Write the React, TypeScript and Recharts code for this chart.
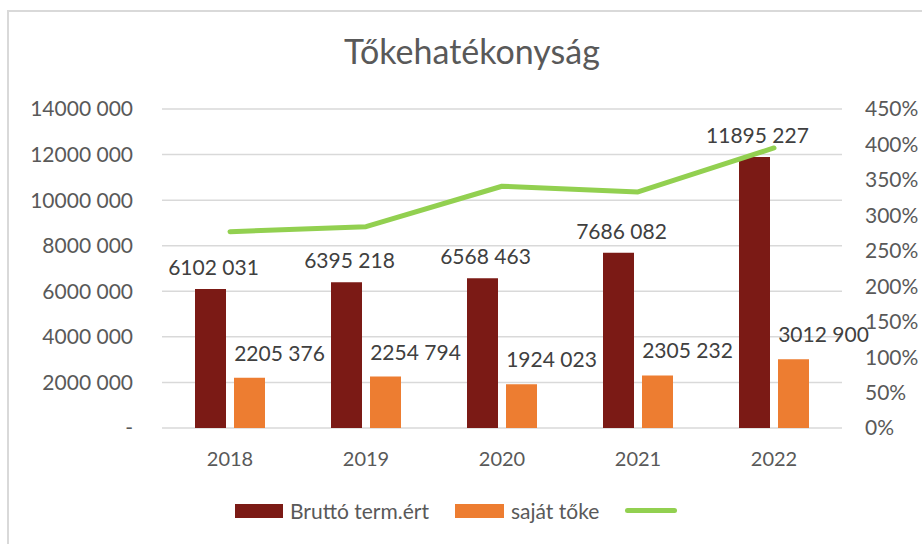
import { Bar, CartesianGrid, ComposedChart, LabelList, Line, XAxis, YAxis } from 'recharts';

const years = ['2018', '2019', '2020', '2021', '2022'];
const bruttoTermErt = [6102031, 6395218, 6568463, 7686082, 11895227];
const sajatToke = [2205376, 2254794, 1924023, 2305232, 3012900];
const hatekonysag = [2.77, 2.84, 3.41, 3.33, 3.95];

const leftTicks = [0, 2000000, 4000000, 6000000, 8000000, 10000000, 12000000, 14000000];
const rightTicks = [0, 0.5, 1, 1.5, 2, 2.5, 3, 3.5, 4, 4.5];

const FONT = 'Lato, "Open Sans", sans-serif';
const DARK = '#7B1A15';
const ORANGE = '#ED7D31';
const GREEN = '#92D050';

// Excel number format "# ###" -> "14000 000", zero shown as "-"
function fmtNum(v: number): string {
  if (v === 0) return '-';
  const head = Math.floor(v / 1000);
  const tail = String(v % 1000).padStart(3, '0');
  return `${head} ${tail}`;
}

function fmtPct(v: number): string {
  return `${Math.round(v * 100)}%`;
}

function makeLabel(dx: number, dy: number) {
  return (props: any) => {
    const { x, y, width, value } = props;
    return (
      <text
        x={Number(x) + Number(width) / 2 + dx}
        y={Number(y) + dy}
        textAnchor="middle"
        fontFamily={FONT}
        fontSize={21}
        fill="#404040"
      >
        {fmtNum(Number(value))}
      </text>
    );
  };
}

function ChartLegend() {
  const item = { display: 'flex', alignItems: 'center', marginRight: 26 } as const;
  const text = { fontFamily: FONT, fontSize: 21, color: '#595959', marginLeft: 7 } as const;
  return (
    <div style={{ position: 'absolute', left: 235, top: 498, display: 'flex', alignItems: 'center' }}>
      <div style={item}>
        <div style={{ width: 48, height: 14, background: DARK }} />
        <span style={text}>Bruttó term.ért</span>
      </div>
      <div style={item}>
        <div style={{ width: 49, height: 14, background: ORANGE }} />
        <span style={text}>saját tőke</span>
      </div>
      <div style={item}>
        <div style={{ width: 52, height: 5, borderRadius: 3, background: GREEN }} />
      </div>
    </div>
  );
}

export default function App(): JSX.Element {
  const chartData = years.map((year, i) => ({
    year,
    brutto: bruttoTermErt[i],
    sajat: sajatToke[i],
    arany: hatekonysag[i],
  }));

  return (
    <div style={{ position: 'absolute', left: 0, top: 0, width: 922, height: 544, overflow: 'hidden', background: '#fff' }}>
      <div
        style={{
          position: 'absolute',
          left: 7,
          top: 10,
          width: 940,
          height: 560,
          border: '2px solid #D9D9D9',
        }}
      />
      <div
        style={{
          position: 'absolute',
          left: 8,
          width: 928,
          top: 30,
          textAlign: 'center',
          fontFamily: FONT,
          fontSize: 34,
          color: '#595959',
        }}
      >
        Tőkehatékonyság
      </div>
      <div style={{ position: 'absolute', left: 0, top: 0 }}>
        <ComposedChart
          width={922}
          height={544}
          data={chartData}
          margin={{ top: 109, right: 0, left: 0, bottom: 56 }}
          barSize={31}
          barGap={8}
        >
          <CartesianGrid vertical={false} stroke="#D9D9D9" strokeWidth={1.5} yAxisId="left" />
          <XAxis
            dataKey="year"
            axisLine={false}
            tickLine={false}
            tickMargin={18}
            height={60}
            tick={{ fontFamily: FONT, fontSize: 20, fill: '#595959' }}
          />
          <YAxis
            yAxisId="left"
            orientation="left"
            width={162}
            domain={[0, 14000000]}
            ticks={leftTicks}
            tickFormatter={fmtNum}
            axisLine={false}
            tickLine={false}
            tickSize={0}
            tickMargin={29}
            interval={0}
            tick={{ fontFamily: FONT, fontSize: 21, fill: '#595959' }}
          />
          <YAxis
            yAxisId="right"
            orientation="right"
            width={80}
            domain={[0, 4.5]}
            ticks={rightTicks}
            tickFormatter={fmtPct}
            axisLine={false}
            tickLine={false}
            tickSize={0}
            tickMargin={23}
            interval={0}
            tick={{ fontFamily: FONT, fontSize: 21, fill: '#595959' }}
          />
          <Bar yAxisId="left" dataKey="brutto" fill={DARK} isAnimationActive={false}>
            <LabelList dataKey="brutto" content={makeLabel(3, -14)} />
          </Bar>
          <Bar yAxisId="left" dataKey="sajat" fill={ORANGE} isAnimationActive={false}>
            <LabelList dataKey="sajat" content={makeLabel(30, -17)} />
          </Bar>
          <Line
            yAxisId="right"
            dataKey="arany"
            stroke={GREEN}
            strokeWidth={5}
            strokeLinecap="round"
            strokeLinejoin="round"
            dot={false}
            isAnimationActive={false}
          />
        </ComposedChart>
      </div>
      <ChartLegend />
    </div>
  );
}
